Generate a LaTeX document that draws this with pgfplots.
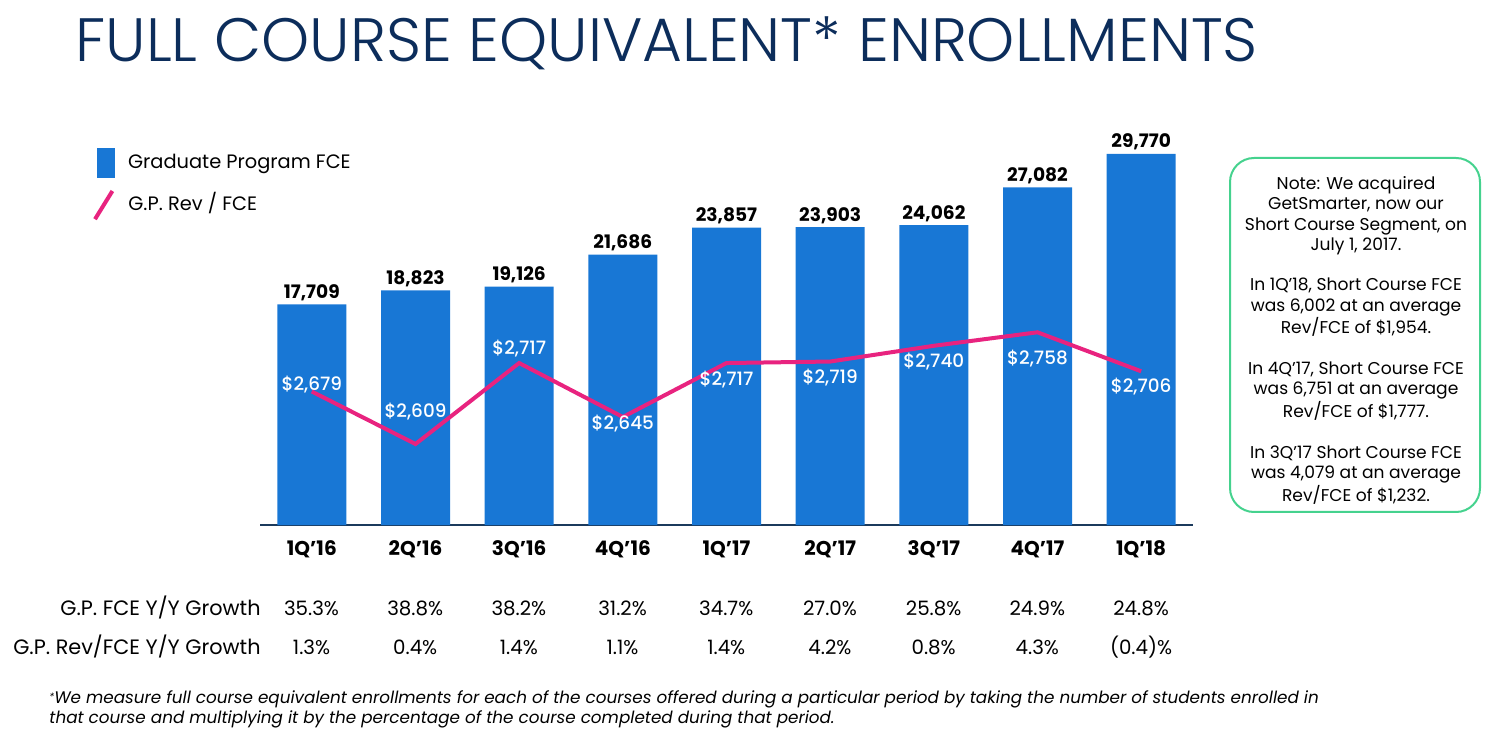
\documentclass[border=0pt]{standalone}
\usepackage{fontspec}
\setmainfont{Poppins}
\newfontfamily\titlefont{Poppins Light}
\newfontfamily\medfont{Poppins Medium}
\usepackage{pgfplots}
\usepackage{pgfplotstable}
\pgfplotsset{compat=1.18}
\definecolor{barblue}{HTML}{1877D5}
\definecolor{linepink}{HTML}{E8237F}
\definecolor{navy}{HTML}{0C2D5B}
\definecolor{notegreen}{HTML}{45D28E}
\definecolor{axisnavy}{HTML}{1B3A5C}

\pgfplotstableread{
x y
0 17709
1 18823
2 19126
3 21686
4 23857
5 23903
6 24062
7 27082
8 29770
}\fce
\pgfplotstableread{
x y off
0 2679 3.7
1 2609 16.2
2 2717 7.3
3 2645 -3.5
4 2717 -8.3
5 2719 -7.8
6 2740 -8.1
7 2758 -13
8 2706 -7.6
}\rev

\begin{document}
\begin{tikzpicture}
\useasboundingbox (0,0) rectangle (745.5pt,372pt);
% title
\node[anchor=base west, inner sep=0pt, text=navy, font=\titlefont\fontsize{30.6}{32}\selectfont] at (37.5pt,341pt) {FULL COURSE EQUIVALENT* ENROLLMENTS};
\begin{axis}[
  at={(130pt,109.5pt)}, anchor=south west,
  scale only axis, width=466.5pt, height=197.5pt,
  xmin=-0.5, xmax=8.5, ymin=0, ymax=31694,
  axis x line=bottom, axis y line=none,
  axis line style={axisnavy, line width=1pt, -},
  xtick={0,...,8},
  xticklabels={1Q'16,2Q'16,3Q'16,4Q'16,1Q'17,2Q'17,3Q'17,4Q'17,1Q'18},
  major tick length=0pt,
  xticklabel style={font=\bfseries\fontsize{10}{12}\selectfont, anchor=base, yshift=-15.3pt, inner sep=0pt},
  ytick=\empty,
  clip=false,
  ybar, bar width=34.5pt, bar shift=0pt,
  point meta=y,
  nodes near coords={\pgfmathprintnumber[1000 sep={,}]{\pgfplotspointmeta}},
  nodes near coords style={font=\bfseries\fontsize{9.3}{11}\selectfont, anchor=base, yshift=3pt, inner sep=0pt, text=black},
  /pgf/number format/assume math mode=true,
]
\addplot[fill=barblue, draw=none] table[x=x,y=y]{\fce};
\end{axis}
\begin{axis}[
  at={(130pt,109.5pt)}, anchor=south west,
  scale only axis, width=466.5pt, height=197.5pt,
  xmin=-0.5, xmax=8.5, ymin=2501, ymax=3027.8,
  hide axis, clip=false,
  /pgf/number format/assume math mode=true,
]
\addplot[linepink, line width=2pt, mark=none,
  point meta=y,
  nodes near coords={\$\pgfmathprintnumber[1000 sep={,}]{\pgfplotspointmeta}},
  visualization depends on={\thisrow{off} \as \off},
  every node near coord/.append style={font=\medfont\fontsize{9.2}{11}\selectfont, text=white, anchor=center, yshift=\off pt, inner sep=0pt},
] table[x=x,y=y]{\rev};
\end{axis}
% legend
\fill[barblue] (48.5pt,283pt) rectangle (57.5pt,298pt);
\node[anchor=base west, inner sep=0pt, font=\fontsize{9.7}{12}\selectfont] at (63.85pt,287.5pt) {Graduate Program FCE};
\draw[linepink, line width=2pt] (47.5pt,262.4pt) -- (56.2pt,276.5pt);
\node[anchor=base west, inner sep=0pt, font=\fontsize{9.7}{12}\selectfont] at (64pt,266.5pt) {G.P. Rev / FCE};
% growth rows
\node[anchor=base east, inner sep=0pt, font=\fontsize{10.4}{12}\selectfont] at (130.5pt,64.5pt) {G.P. FCE Y/Y Growth};
\node[anchor=base east, inner sep=0pt, font=\fontsize{10.4}{12}\selectfont] at (130.5pt,45pt) {G.P. Rev/FCE Y/Y Growth};
\foreach \v [count=\i from 0] in {35.3\%,38.8\%,38.2\%,31.2\%,34.7\%,27.0\%,25.8\%,24.9\%,24.8\%}
  \node[anchor=base, inner sep=0pt, font=\fontsize{9.9}{12}\selectfont] at ({(311.5+\i*103.69)*0.5pt},64.5pt) {\v};
\foreach \v [count=\i from 0] in {1.3\%,0.4\%,1.4\%,1.1\%,1.4\%,4.2\%,0.8\%,4.3\%,{(0.4)\%}}
  \node[anchor=base, inner sep=0pt, font=\fontsize{9.9}{12}\selectfont] at ({(311.5+\i*103.69)*0.5pt},45pt) {\v};
% note box
\draw[notegreen, line width=1pt, rounded corners=12pt] (615pt,116pt) rectangle (740pt,293pt);
\node[anchor=north, inner sep=0pt, align=center, font=\fontsize{8.55}{10.15}\selectfont] at (678pt,284pt)
  {Note: We acquired\\GetSmarter, now our\\Short Course Segment, on\\July 1, 2017.\\[10.15pt]
   In 1Q'18, Short Course FCE\\was 6,002 at an average\\Rev/FCE of \$1,954.\\[10.15pt]
   In 4Q'17, Short Course FCE\\was 6,751 at an average\\Rev/FCE of \$1,777.\\[10.15pt]
   In 3Q'17 Short Course FCE\\was 4,079 at an average\\Rev/FCE of \$1,232.};
% footnote
\node[anchor=base west, inner sep=0pt, font=\itshape\fontsize{8.4}{10}\selectfont] at (24.5pt,20.5pt)
  {\raisebox{0.3ex}{\fontsize{5}{6}\selectfont*}We measure full course equivalent enrollments for each of the courses offered during a particular period by taking the number of students enrolled in};
\node[anchor=base west, inner sep=0pt, font=\itshape\fontsize{8.4}{10}\selectfont] at (24.5pt,10.5pt)
  {that course and multiplying it by the percentage of the course completed during that period.};
\end{tikzpicture}
\end{document}
